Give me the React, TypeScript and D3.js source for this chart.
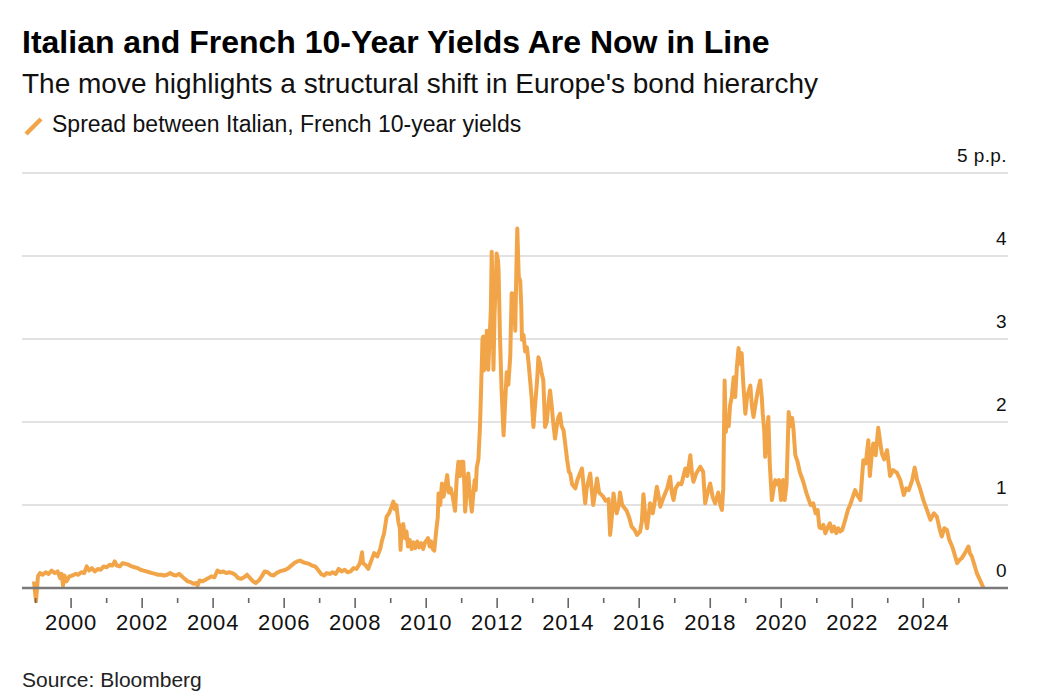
import React from 'react';
import * as d3 from 'd3';

const W = 1050;
const H = 696;

const title = 'Italian and French 10-Year Yields Are Now in Line';
const subtitle = "The move highlights a structural shift in Europe's bond hierarchy";
const legendLabel = 'Spread between Italian, French 10-year yields';
const source = 'Source: Bloomberg';

const yTicks = [0, 1, 2, 3, 4, 5];
const yTickLabels = ['0', '1', '2', '3', '4', '5 p.p.'];
const tickYears = d3.range(1999, 2026);
const xDomain = ['1998-08-14', '2026-05-22'];
const yDomain = [0, 5];

type Pt = [string, number];

const spread1999to2007: Pt[] = [
  ['1998-12-15', 0.08], ['1999-01-05', -0.16], ['1999-01-25', 0.14], ['1999-02-15', 0.18], ['1999-03-15', 0.16],
  ['1999-04-15', 0.19], ['1999-05-15', 0.17], ['1999-06-15', 0.21], ['1999-07-15', 0.18], ['1999-08-15', 0.2],
  ['1999-09-10', 0.12], ['1999-09-25', 0.17], ['1999-10-10', 0.03], ['1999-10-25', 0.15], ['1999-11-15', 0.08],
  ['1999-12-15', 0.14], ['2000-01-15', 0.15], ['2000-02-15', 0.17], ['2000-03-15', 0.16], ['2000-04-15', 0.19],
  ['2000-05-15', 0.18], ['2000-06-10', 0.26], ['2000-07-05', 0.21], ['2000-08-01', 0.24], ['2000-09-01', 0.2],
  ['2000-10-01', 0.23], ['2000-11-01', 0.22], ['2000-12-01', 0.26], ['2001-01-01', 0.25], ['2001-02-01', 0.28],
  ['2001-03-01', 0.27], ['2001-03-25', 0.32], ['2001-04-15', 0.27], ['2001-05-15', 0.26], ['2001-06-15', 0.3],
  ['2001-07-15', 0.29], ['2001-08-15', 0.28], ['2001-09-15', 0.26], ['2001-10-15', 0.25], ['2001-11-15', 0.24],
  ['2001-12-15', 0.22], ['2002-01-15', 0.21], ['2002-02-15', 0.2], ['2002-03-15', 0.19], ['2002-04-15', 0.18],
  ['2002-05-15', 0.17], ['2002-06-15', 0.16], ['2002-07-15', 0.16], ['2002-08-15', 0.15], ['2002-09-15', 0.16],
  ['2002-10-15', 0.18], ['2002-11-15', 0.16], ['2002-12-15', 0.15], ['2003-01-15', 0.17], ['2003-02-15', 0.14],
  ['2003-03-15', 0.11], ['2003-04-15', 0.08], ['2003-05-15', 0.07], ['2003-06-15', 0.05], ['2003-07-15', 0.06],
  ['2003-07-25', 0.03], ['2003-08-15', 0.09], ['2003-09-15', 0.08], ['2003-10-15', 0.1], ['2003-11-15', 0.12],
  ['2003-12-15', 0.14], ['2004-01-15', 0.13], ['2004-02-15', 0.21], ['2004-03-15', 0.19], ['2004-04-15', 0.2],
  ['2004-05-15', 0.18], ['2004-06-15', 0.19], ['2004-07-15', 0.18], ['2004-08-15', 0.16], ['2004-09-15', 0.12],
  ['2004-10-15', 0.11], ['2004-11-15', 0.13], ['2004-12-15', 0.16], ['2005-01-15', 0.12], ['2005-02-15', 0.08],
  ['2005-03-15', 0.06], ['2005-04-15', 0.09], ['2005-05-15', 0.14], ['2005-06-15', 0.2], ['2005-07-15', 0.19],
  ['2005-08-15', 0.16], ['2005-09-15', 0.15], ['2005-10-15', 0.18], ['2005-11-15', 0.2], ['2005-12-15', 0.21],
  ['2006-01-15', 0.22], ['2006-02-15', 0.24], ['2006-03-15', 0.27], ['2006-04-15', 0.3], ['2006-05-15', 0.32],
  ['2006-06-15', 0.33], ['2006-07-15', 0.31], ['2006-08-15', 0.3], ['2006-09-15', 0.29], ['2006-10-15', 0.27],
  ['2006-11-15', 0.26], ['2006-12-15', 0.22], ['2007-01-15', 0.17], ['2007-02-15', 0.15], ['2007-03-15', 0.18],
  ['2007-04-15', 0.17], ['2007-05-15', 0.19], ['2007-06-15', 0.17], ['2007-07-15', 0.23], ['2007-08-15', 0.2],
  ['2007-09-15', 0.22], ['2007-10-15', 0.19], ['2007-11-15', 0.2], ['2007-12-15', 0.24],
];

const spread2008to2010: Pt[] = [
  ['2008-01-15', 0.23], ['2008-02-20', 0.3], ['2008-03-12', 0.43], ['2008-03-22', 0.3], ['2008-04-20', 0.27],
  ['2008-05-15', 0.23], ['2008-06-15', 0.33], ['2008-07-15', 0.42], ['2008-08-15', 0.38], ['2008-09-15', 0.47],
  ['2008-10-05', 0.58], ['2008-10-25', 0.66], ['2008-11-20', 0.86], ['2008-12-15', 0.9], ['2009-01-10', 0.98],
  ['2009-01-28', 1.04], ['2009-02-12', 0.95], ['2009-02-28', 1.0], ['2009-03-20', 0.8], ['2009-04-05', 0.72],
  ['2009-04-12', 0.46], ['2009-04-22', 0.7], ['2009-05-10', 0.77], ['2009-05-28', 0.6], ['2009-06-12', 0.68],
  ['2009-06-28', 0.5], ['2009-07-15', 0.58], ['2009-08-05', 0.47], ['2009-08-22', 0.55], ['2009-09-10', 0.48],
  ['2009-10-01', 0.56], ['2009-10-20', 0.49], ['2009-11-10', 0.54], ['2009-12-01', 0.47], ['2009-12-20', 0.55],
  ['2010-01-20', 0.6], ['2010-02-05', 0.5], ['2010-02-20', 0.56], ['2010-03-10', 0.47], ['2010-03-25', 0.45],
  ['2010-04-15', 0.7], ['2010-04-30', 0.85], ['2010-05-08', 1.14], ['2010-05-25', 1.0], ['2010-06-12', 1.26],
  ['2010-06-28', 1.1], ['2010-07-15', 1.2], ['2010-08-05', 1.36], ['2010-08-22', 1.15], ['2010-09-10', 1.2],
  ['2010-10-01', 1.1], ['2010-10-25', 0.93], ['2010-11-10', 1.3], ['2010-11-28', 1.52], ['2010-12-15', 1.35],
  ['2010-12-30', 1.52],
];

const spread2011to2013: Pt[] = [
  ['2011-01-18', 1.52], ['2011-01-28', 1.25], ['2011-02-06', 0.92], ['2011-02-20', 1.15], ['2011-03-10', 1.38],
  ['2011-03-25', 1.15], ['2011-04-15', 0.92], ['2011-04-30', 1.12], ['2011-05-15', 1.3], ['2011-05-25', 1.18],
  ['2011-06-05', 1.45], ['2011-06-22', 1.55], ['2011-07-08', 1.94], ['2011-07-20', 2.4], ['2011-08-03', 3.0],
  ['2011-08-10', 3.03], ['2011-08-18', 2.62], ['2011-08-28', 2.95], ['2011-09-08', 2.65], ['2011-09-16', 3.1],
  ['2011-10-01', 2.63], ['2011-10-15', 3.0], ['2011-10-28', 3.35], ['2011-11-06', 4.05], ['2011-11-15', 3.5],
  ['2011-11-24', 2.63], ['2011-12-05', 3.3], ['2011-12-15', 3.6], ['2011-12-27', 4.03], ['2012-01-09', 3.95],
  ['2012-01-15', 3.85], ['2012-01-30', 3.03], ['2012-02-15', 2.4], ['2012-03-07', 1.84], ['2012-03-22', 2.2],
  ['2012-04-08', 2.6], ['2012-04-25', 2.45], ['2012-05-15', 2.8], ['2012-05-29', 3.55], ['2012-06-12', 3.2],
  ['2012-06-25', 3.55], ['2012-07-05', 3.1], ['2012-07-16', 3.8], ['2012-07-26', 4.33], ['2012-08-10', 3.75],
  ['2012-08-25', 3.7], ['2012-09-05', 3.4], ['2012-09-12', 2.99], ['2012-09-28', 3.05], ['2012-10-15', 2.85],
  ['2012-11-02', 2.9], ['2012-11-20', 2.7], ['2012-12-05', 2.5], ['2012-12-20', 2.3], ['2013-01-08', 1.94],
  ['2013-01-25', 2.2], ['2013-02-15', 2.5], ['2013-02-28', 2.78], ['2013-03-15', 2.72], ['2013-04-01', 2.6],
  ['2013-04-20', 2.5], ['2013-05-08', 1.94], ['2013-05-25', 2.0], ['2013-06-10', 2.2], ['2013-06-28', 2.38],
  ['2013-07-15', 2.2], ['2013-07-30', 2.0], ['2013-08-18', 1.8], ['2013-09-05', 1.95], ['2013-09-20', 2.05],
  ['2013-10-08', 2.1], ['2013-10-25', 1.95], ['2013-11-14', 1.9], ['2013-12-05', 1.7], ['2013-12-20', 1.55],
];

const spread2014to2017: Pt[] = [
  ['2014-01-08', 1.4], ['2014-01-22', 1.38], ['2014-02-10', 1.25], ['2014-03-15', 1.2], ['2014-04-05', 1.3],
  ['2014-05-22', 1.44], ['2014-06-25', 1.02], ['2014-07-10', 1.2], ['2014-08-15', 1.38], ['2014-09-15', 1.0],
  ['2014-10-05', 1.15], ['2014-10-24', 1.32], ['2014-11-15', 1.15], ['2014-12-28', 1.1], ['2015-01-20', 1.05],
  ['2015-02-20', 1.07], ['2015-03-08', 0.64], ['2015-03-25', 0.85], ['2015-04-12', 1.14], ['2015-04-28', 1.0],
  ['2015-05-15', 0.9], ['2015-06-05', 1.0], ['2015-06-18', 1.15], ['2015-07-10', 1.0], ['2015-08-25', 0.93],
  ['2015-09-20', 0.85], ['2015-10-15', 0.74], ['2015-11-15', 0.7], ['2015-12-10', 0.64], ['2016-01-10', 0.68],
  ['2016-01-28', 0.8], ['2016-02-14', 1.13], ['2016-03-05', 0.85], ['2016-03-22', 0.72], ['2016-04-22', 1.02],
  ['2016-05-20', 0.9], ['2016-06-10', 1.05], ['2016-07-01', 1.22], ['2016-07-20', 1.1], ['2016-08-05', 0.98],
  ['2016-09-10', 1.1], ['2016-10-15', 1.2], ['2016-11-14', 1.34], ['2016-12-01', 1.15], ['2016-12-20', 1.06],
  ['2017-01-10', 1.2], ['2017-02-10', 1.26], ['2017-03-10', 1.25], ['2017-04-20', 1.44], ['2017-05-10', 1.35],
  ['2017-06-10', 1.6], ['2017-06-25', 1.4], ['2017-07-12', 1.28], ['2017-08-10', 1.38], ['2017-09-20', 1.46],
  ['2017-10-20', 1.4], ['2017-11-10', 1.02], ['2017-12-05', 1.15], ['2017-12-31', 1.26],
];

const spread2018to2019: Pt[] = [
  ['2018-01-25', 1.1], ['2018-02-20', 1.02], ['2018-03-25', 1.15], ['2018-04-15', 1.0], ['2018-05-01', 0.94],
  ['2018-05-15', 1.2], ['2018-05-29', 2.5], ['2018-06-10', 1.88], ['2018-06-25', 2.05], ['2018-07-10', 1.95],
  ['2018-07-24', 2.2], ['2018-08-10', 2.3], ['2018-08-30', 2.54], ['2018-09-15', 2.3], ['2018-10-01', 2.65],
  ['2018-10-19', 2.89], ['2018-11-05', 2.7], ['2018-11-20', 2.83], ['2018-12-05', 2.5], ['2018-12-28', 2.1],
  ['2019-01-15', 2.3], ['2019-02-17', 2.44], ['2019-03-05', 2.2], ['2019-03-22', 2.06], ['2019-04-10', 2.2],
  ['2019-05-01', 2.35], ['2019-05-30', 2.5], ['2019-06-15', 2.3], ['2019-06-25', 2.1], ['2019-07-10', 1.9],
  ['2019-07-20', 1.58], ['2019-08-05', 1.8], ['2019-08-22', 2.06], ['2019-09-05', 1.5], ['2019-09-27', 1.06],
  ['2019-10-15', 1.2], ['2019-11-01', 1.3], ['2019-11-20', 1.25], ['2019-12-10', 1.3], ['2019-12-30', 1.06],
];

const spread2020to2025: Pt[] = [
  ['2020-01-20', 1.3], ['2020-02-06', 1.06], ['2020-02-25', 1.25], ['2020-03-18', 2.12], ['2020-04-05', 1.95],
  ['2020-04-22', 2.05], ['2020-05-05', 1.93], ['2020-05-25', 1.6], ['2020-06-15', 1.53], ['2020-07-10', 1.4],
  ['2020-08-15', 1.28], ['2020-09-15', 1.15], ['2020-10-15', 1.05], ['2020-10-30', 1.0], ['2020-11-25', 1.02],
  ['2020-12-20', 0.9], ['2021-01-10', 0.94], ['2021-01-28', 0.73], ['2021-02-15', 0.72], ['2021-03-10', 0.76],
  ['2021-03-30', 0.66], ['2021-04-20', 0.72], ['2021-05-15', 0.78], ['2021-06-05', 0.68], ['2021-06-28', 0.74],
  ['2021-07-20', 0.66], ['2021-08-10', 0.72], ['2021-08-30', 0.68], ['2021-09-20', 0.7], ['2021-10-20', 0.82],
  ['2021-11-20', 0.95], ['2021-12-10', 1.0], ['2022-01-30', 1.18], ['2022-02-20', 1.12], ['2022-03-25', 1.06],
  ['2022-04-25', 1.54], ['2022-05-20', 1.5], ['2022-06-15', 1.78], ['2022-07-01', 1.35], ['2022-07-20', 1.6],
  ['2022-08-05', 1.74], ['2022-08-30', 1.6], ['2022-09-25', 1.93], ['2022-11-01', 1.62], ['2022-11-25', 1.55],
  ['2022-12-25', 1.66], ['2023-01-25', 1.35], ['2023-02-25', 1.42], ['2023-04-05', 1.39], ['2023-05-10', 1.3],
  ['2023-06-15', 1.12], ['2023-07-10', 1.2], ['2023-08-05', 1.18], ['2023-09-10', 1.3], ['2023-10-05', 1.45],
  ['2023-10-30', 1.3], ['2023-12-01', 1.19], ['2024-01-05', 1.05], ['2024-02-05', 0.95], ['2024-03-15', 0.82],
  ['2024-04-20', 0.9], ['2024-05-20', 0.86], ['2024-06-20', 0.7], ['2024-07-10', 0.62], ['2024-08-05', 0.72],
  ['2024-09-01', 0.7], ['2024-09-25', 0.58], ['2024-10-25', 0.5], ['2024-11-20', 0.4], ['2024-12-15', 0.3],
  ['2025-01-10', 0.34], ['2025-02-01', 0.36], ['2025-03-05', 0.42], ['2025-04-10', 0.5], ['2025-04-25', 0.42],
  ['2025-05-15', 0.38], ['2025-06-10', 0.28], ['2025-07-05', 0.18], ['2025-08-05', 0.1], ['2025-09-12', 0.0],
];

const FONT = '"Liberation Sans", Arial, Helvetica, sans-serif';
const LINE_COLOR = '#F2A548';

export default function App() {
  const parse = d3.timeParse('%Y-%m-%d');
  const series = [
    ...spread1999to2007,
    ...spread2008to2010,
    ...spread2011to2013,
    ...spread2014to2017,
    ...spread2018to2019,
    ...spread2020to2025,
  ].map(([d, v]) => ({ date: parse(d) as Date, value: v }));

  const x = d3
    .scaleTime()
    .domain(xDomain.map((d) => parse(d) as Date))
    .range([22, 1008]);
  const y = d3.scaleLinear().domain(yDomain).range([588, 173]);

  const line = d3
    .line<{ date: Date; value: number }>()
    .x((d) => x(d.date))
    .y((d) => y(d.value))
    .curve(d3.curveLinear);

  const [x0, x1] = x.range();

  return (
    <svg
      width={W}
      height={H}
      viewBox={`0 0 ${W} ${H}`}
      style={{ position: 'absolute', left: 0, top: 0, background: '#fff' }}
      fontFamily={FONT}
    >
      <rect width={W} height={H} fill="#fff" />
      <text x={22} y={53} fontSize={32} fontWeight={700} fill="#000">
        {title}
      </text>
      <text x={22} y={93} fontSize={28} fill="#111">
        {subtitle}
      </text>
      <line x1={26} y1={134} x2={41} y2={119} stroke={LINE_COLOR} strokeWidth={4.5} />
      <text x={52} y={132} fontSize={23} fill="#111">
        {legendLabel}
      </text>

      {yTicks.map((t) =>
        t === 0 ? null : (
          <line key={`g${t}`} x1={x0} x2={x1} y1={y(t)} y2={y(t)} stroke="#e2e2e2" strokeWidth={2} />
        )
      )}
      {yTicks.map((t, i) => (
        <text
          key={`yl${t}`}
          x={1007}
          y={y(t) - 11}
          textAnchor="end"
          fontSize={19}
          letterSpacing={0.4}
          fill="#111"
        >
          {yTickLabels[i]}
        </text>
      ))}

      <path d={line(series) || ''} fill="none" stroke={LINE_COLOR} strokeWidth={4} strokeLinejoin="round" />

      <line x1={x0} x2={x1} y1={y(0)} y2={y(0)} stroke="#7a7a7a" strokeWidth={2.5} />

      {tickYears.map((yr) => {
        const xx = x(new Date(yr, 0, 1));
        const major = yr % 2 === 0;
        return (
          <g key={yr}>
            <line x1={xx} x2={xx} y1={598} y2={major ? 608 : 603} stroke="#666" strokeWidth={1.6} />
            {major && (
              <text x={xx} y={630} textAnchor="middle" fontSize={22} letterSpacing={0.8} fill="#111">
                {yr}
              </text>
            )}
          </g>
        );
      })}

      <text x={22} y={687} fontSize={21} fill="#222">
        {source}
      </text>
    </svg>
  );
}
